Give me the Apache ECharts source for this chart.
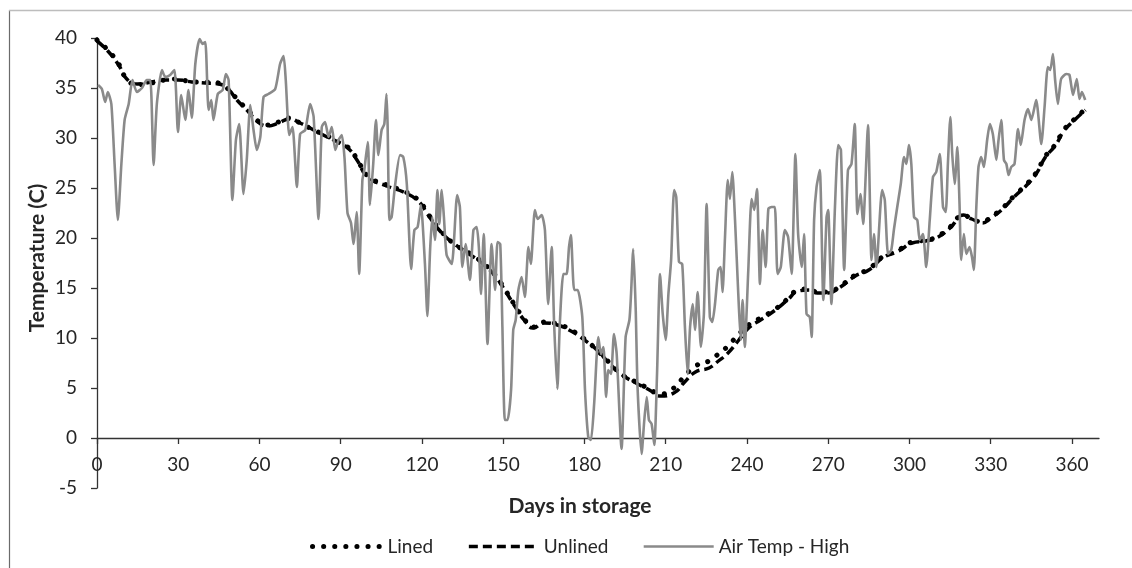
<!DOCTYPE html>
<html>
<head>
<meta charset="utf-8">
<script src="https://cdn.jsdelivr.net/npm/echarts@6/dist/echarts.min.js"></script>
<style>
html,body{margin:0;padding:0;background:#fff;}
#chart{width:1132px;height:568px;}
</style>
</head>
<body>
<div id="chart"></div>
<script>
// ---- data ----
const xTicks = [0, 30, 60, 90, 120, 150, 180, 210, 240, 270, 300, 330, 360];

const linedDays = [0,4,8,11,15,20,25,30,35,40,45,48,52,56,59,63,67,71,75,80,85,89,93,96,100,107,114,119,122,127,132,138,143,147,151,154,158,161,165,170,175,180,185,189,194,199,204,208,213,217,221,226,229,233,237,241,245,250,255,259,263,266,270,274,280,285,290,296,301,306,310,315,320,323,327,330,334,339,343,347,350,354,357,361,365];
const linedTemps = [39.8,38.8,37.4,35.9,35.3,35.5,35.8,35.9,35.6,35.6,35.5,35.0,33.8,32.7,31.8,31.3,31.6,32.0,31.5,30.8,30.2,29.6,29.0,27.9,26.2,25.3,24.6,23.7,22.5,20.7,19.4,18.4,17.4,16.3,14.7,13.4,11.8,11.1,11.6,11.4,10.8,9.9,8.7,7.6,6.3,5.6,4.9,4.4,5.0,6.2,7.2,7.7,8.3,9.2,10.4,11.4,12.0,12.8,13.9,14.8,14.9,14.6,14.6,15.1,16.3,16.9,18.1,18.8,19.6,19.8,20.1,21.1,22.3,21.9,21.6,22.1,22.9,24.3,25.3,26.6,28.1,29.4,30.8,31.9,32.9];

const unlinedDays = [0,4,8,11,15,20,25,30,35,40,45,48,52,56,59,63,67,71,75,80,85,89,93,96,100,107,114,119,122,127,132,138,143,147,151,154,158,161,165,170,175,180,185,189,194,199,204,208,213,217,221,226,229,233,237,241,245,250,255,259,263,266,270,274,280,285,290,296,301,306,310,315,320,323,327,330,334,339,343,347,350,354,357,361,365];
const unlinedTemps = [39.7,38.7,37.3,35.9,35.4,35.6,35.8,35.8,35.6,35.5,35.4,35.0,33.7,32.6,31.7,31.2,31.5,31.9,31.5,30.8,30.1,29.6,28.9,27.8,26.1,25.2,24.5,23.6,22.4,20.6,19.4,18.3,17.3,16.2,14.6,13.3,11.7,11.0,11.5,11.3,10.7,9.8,8.7,7.5,6.3,5.5,4.8,4.2,4.5,5.6,6.6,7.0,7.6,8.5,9.8,11.1,11.8,12.7,13.8,14.7,14.8,14.5,14.5,15.0,16.2,16.8,18.0,18.7,19.5,19.7,20.0,21.0,22.3,21.9,21.5,22.0,22.8,24.2,25.2,26.5,28.0,29.3,30.7,31.8,32.8];

const airDays = [0.4,1.8,3,4,5.3,6.5,7.7,9,10.2,11.7,13.1,14.7,16.6,18.4,19.7,20.9,22.1,24,25.2,27,28.6,29.9,31.1,32.6,33.8,35,36.3,37.9,39,40,41.2,42.2,43,44.6,46.4,47.6,48.6,50,51.3,52.5,54.1,55.3,56.6,57.8,59,60.3,61.5,63.3,65.8,67.6,68.9,69.7,71,72.2,73.8,75,76.9,78.7,80,81.8,83,84.2,85.5,86.7,88,89.2,90.4,91.4,92.5,93.8,94.7,95.9,96.8,98,98.7,100,100.8,102,103,103.9,105.1,106.1,106.9,107.3,108,108.8,110,111.9,113.1,114.4,116,117.2,118.4,119.6,121.1,122,123,123.8,124.8,125.7,126.4,127.3,128.1,129.1,131,133,134,134.9,136.1,137.7,139,140.2,141,141.8,142.8,144.2,145.7,147,147.9,148.9,149.7,150.6,151.6,152.9,153.7,154.6,155.6,156.8,158,159.3,160.2,161.7,162.7,164.2,165.4,166.6,167.9,168.8,170,170.9,172.2,173.4,174.3,175,176.2,177.5,179.2,180.2,181.4,182.4,183.6,185.1,186.1,187,188,188.8,189.8,190.9,191.9,193.7,195.2,196.6,197.2,198,198.9,199.6,201.1,202.1,203,203.8,204.8,205.8,206.8,207.9,208.9,210,211,212,213.1,213.9,214.9,216.1,217.1,218.1,219,220,220.8,221.8,223,224.1,225.1,226.3,227.2,228.2,229.4,230.3,231,231.9,232.9,233.7,234.6,235.6,236.8,237.7,238.4,239.2,240.5,241.7,242.7,243.7,244.8,245.8,246.9,247.9,249.1,250.3,251.3,252.5,254,255.2,256.5,257.9,258.9,260.2,261.1,262,263.2,263.9,264.8,265.7,266.9,268.2,269.4,270,271.2,272.5,273.7,274.7,275.9,277.3,278.6,279.8,280.8,281.9,282.9,284.7,286,286.9,287.8,289.9,290.9,292.1,293.3,294.3,295.5,296.8,298,298.9,299.8,300.7,301.7,302.9,303.8,305,306.2,307.5,308.7,309.9,311.2,312.4,313.4,314.2,315.1,315.8,316.7,317.7,318.5,319.1,320.1,321,322.2,323.1,323.8,324.7,325.5,326.5,327.5,328.7,329.7,330.8,332.1,332.9,333.9,334.9,335.8,336.6,337.6,338.8,340.1,341.1,342.5,343.8,345,346.8,348.7,349.9,351.1,352,353,353.8,354.8,356,357.9,359.1,360.4,361.8,362.8,363.7,364.9];
const airTemps = [35.3,34.9,33.6,34.6,33.4,27.4,21.8,27.4,31.8,33.4,35.8,34.6,35.0,35.8,35.8,27.3,33.4,36.8,36.1,36.3,36.8,30.6,34.3,31.8,34.8,32.0,37.4,39.9,39.4,39.6,32.8,33.8,31.8,34.4,34.8,36.4,35.8,23.8,29.8,31.4,24.4,27.8,33.3,30.8,28.8,30.1,34.1,34.4,34.9,37.4,38.2,35.8,30.3,31.1,25.1,30.4,30.8,33.4,32.1,21.9,31.1,31.6,30.1,31.1,28.8,29.8,30.3,28.0,22.5,21.5,19.4,22.6,16.4,25.8,26.8,29.6,23.3,27.4,31.8,28.3,30.8,31.4,34.4,31.4,21.8,22.1,25.1,28.3,28.1,25.4,16.9,20.8,21.1,23.3,17.4,12.2,18.8,22.1,19.8,24.8,21.4,24.8,22.1,18.3,17.4,24.3,23.1,17.1,19.4,15.8,20.8,21.1,19.1,14.4,20.4,9.4,19.4,14.8,19.6,19.4,11.1,1.8,1.8,4.8,10.8,11.8,14.8,16.1,14.1,19.1,17.4,22.8,21.9,22.3,20.8,13.4,19.1,11.4,4.9,11.4,16.4,16.4,19.1,20.3,14.8,14.8,12.1,4.8,0.1,-0.2,3.5,10.1,8.4,9.1,4.1,6.8,6.4,10.4,8.4,-1.1,10.1,11.8,14.4,18.9,13.1,5.1,-1.6,1.8,4.1,1.8,1.4,-0.7,6.4,16.4,12.4,9.8,14.4,17.8,24.8,24.1,17.6,17.4,11.1,6.4,11.1,13.4,10.8,14.6,9.1,12.4,23.4,12.1,11.6,13.4,16.8,17.1,14.6,20.1,25.8,23.9,26.6,21.8,14.4,9.8,13.8,9.1,16.8,23.9,22.8,24.9,15.4,20.8,17.1,22.9,23.1,23.1,16.4,17.1,20.8,20.1,16.4,28.4,20.4,17.1,20.4,12.4,12.1,10.1,21.8,25.1,26.8,13.8,22.1,22.8,13.4,23.1,29.3,28.8,16.8,26.8,27.4,31.4,22.4,24.4,21.4,31.3,17.8,20.4,17.1,24.8,23.8,18.4,18.8,20.9,23.1,25.4,28.1,27.4,29.3,27.4,22.1,21.8,19.8,20.4,17.1,21.8,26.1,26.6,28.4,23.1,22.6,27.4,32.1,28.4,25.4,29.1,23.4,17.8,20.4,18.4,19.1,18.1,16.8,23.1,27.1,28.1,27.1,29.8,31.4,30.4,27.8,29.8,31.8,27.8,27.4,26.3,27.1,27.4,30.9,29.3,31.8,32.9,31.8,33.8,29.4,33.1,37.1,36.8,38.4,35.8,33.4,35.9,36.4,36.3,34.3,35.9,33.9,34.6,33.8];

// ---- build ----
const pairs = (xs, ys) => xs.map((x, i) => [x, ys[i]]);
const FONT = 'Lato, "Open Sans", sans-serif';
const TXT = '#262626';
const DOT = [0.1, 11];
const DASH = [9, 5];

const chart = echarts.init(document.getElementById('chart'), null, {renderer: 'canvas'});
chart.setOption({
  animation: false,
  backgroundColor: '#fff',
  grid: {left: 97, top: 38, right: 33, bottom: 80},
  xAxis: {
    type: 'value', min: 0, max: 370, interval: 30,
    position: 'bottom', offset: -50,
    splitLine: {show: false},
    axisLine: {onZero: false, lineStyle: {color: '#333', width: 1.3}},
    axisTick: {show: true, length: 6, customValues: xTicks, lineStyle: {color: '#333', width: 1.3}},
    axisLabel: {customValues: xTicks, margin: 17, fontSize: 19, color: TXT, fontFamily: FONT}
  },
  yAxis: {
    type: 'value', min: -5, max: 40, interval: 5,
    splitLine: {show: false},
    axisLine: {show: true, onZero: false, lineStyle: {color: '#333', width: 1.3}},
    axisTick: {show: true, length: 6, lineStyle: {color: '#333', width: 1.3}},
    axisLabel: {margin: 20, fontSize: 19, color: TXT, fontFamily: FONT}
  },
  legend: {
    left: 305, top: 532, itemWidth: 70, itemHeight: 14, itemGap: 34,
    textStyle: {fontSize: 19, color: TXT, fontFamily: FONT},
    itemStyle: {opacity: 0},
    data: [
      {name: 'Lined', lineStyle: {width: 5, type: DOT, cap: 'round', color: '#000'}},
      {name: 'Unlined', lineStyle: {width: 3.5, type: DASH, color: '#000'}},
      {name: 'Air Temp - High', lineStyle: {width: 2.5, color: '#8a8a8a'}}
    ]
  },
  graphic: [
    {type: 'line', shape: {x1: 9.5, y1: 10, x2: 9.5, y2: 568}, style: {stroke: '#6b6b6b', lineWidth: 1.2}, silent: true},
    {type: 'line', shape: {x1: 9, y1: 10.5, x2: 1132, y2: 10.5}, style: {stroke: '#bdbdbd', lineWidth: 1.5}, silent: true},
    {type: 'text', x: 37, y: 258, rotation: Math.PI / 2,
     style: {text: 'Temperature (C)', fontSize: 21, fontWeight: 'bold', fill: TXT, fontFamily: FONT, align: 'center', verticalAlign: 'middle'}},
    {type: 'text', x: 580, y: 506,
     style: {text: 'Days in storage', fontSize: 21, fontWeight: 'bold', fill: TXT, fontFamily: FONT, align: 'center', verticalAlign: 'middle'}}
  ],
  series: [
    {
      name: 'Lined', type: 'line', symbol: 'circle', symbolSize: 0, showSymbol: false, smooth: true,
      data: pairs(linedDays, linedTemps),
      lineStyle: {color: '#000', width: 5, type: DOT, cap: 'round'},
      itemStyle: {color: '#000'}, z: 2
    },
    {
      name: 'Unlined', type: 'line', symbol: 'circle', symbolSize: 0, showSymbol: false, smooth: true,
      data: pairs(unlinedDays, unlinedTemps),
      lineStyle: {color: '#000', width: 3.5, type: DASH},
      itemStyle: {color: '#000'}, z: 3
    },
    {
      name: 'Air Temp - High', type: 'line', symbol: 'circle', symbolSize: 0, showSymbol: false, smooth: 0.2,
      data: pairs(airDays, airTemps),
      lineStyle: {color: '#8a8a8a', width: 2.6},
      itemStyle: {color: '#8a8a8a'}, z: 4
    }
  ]
});
</script>
</body>
</html>
